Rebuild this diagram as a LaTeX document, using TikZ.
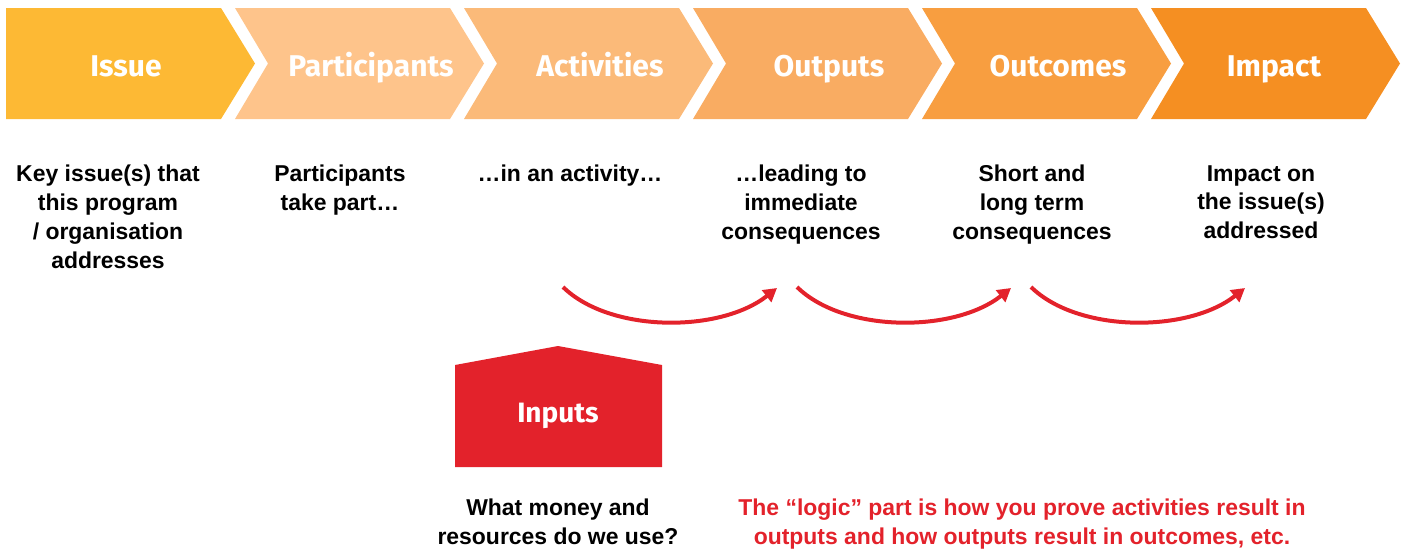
\documentclass[tikz,border=0pt]{standalone}
\usepackage{fontspec}
\setmainfont{Liberation Sans}
\newfontfamily\headfont{Fira Sans}
\usepackage{tikz}
\usepackage{xcolor}
\usetikzlibrary{
    arrows.meta,
    calc,
    positioning
}

\definecolor{issuecol}{HTML}{FDB934}
\definecolor{partcol}{HTML}{FEC48B}
\definecolor{actcol}{HTML}{FBBA79}
\definecolor{outpcol}{HTML}{F9AC62}
\definecolor{outccol}{HTML}{F89E40}
\definecolor{impcol}{HTML}{F58F22}
\definecolor{inred}{HTML}{E3222B}

\begin{document}
\begin{tikzpicture}[x=0.75pt, y=-0.75pt,
    headtext/.style={text=white, font=\headfont\bfseries\fontsize{22.5}{27}\selectfont, anchor=base, inner sep=0},
    bodytext/.style={align=center, font=\bfseries\fontsize{17.2}{21.7}\selectfont, anchor=north, inner sep=0},
    logicarrow/.style={draw=inred, line width=3pt, -{Triangle[length=10pt, width=11pt]}}]
                        \useasboundingbox (0, 0) rectangle (1406, 551);

                        % chevrons
                        \fill[issuecol] (6, 8) -- (221, 8) -- (255, 63.5) -- (221, 119) -- (6, 119) -- cycle;
                        \foreach \k/\col in {1/partcol, 2/actcol, 3/outpcol, 4/outccol, 5/impcol}
                            \fill[\col, shift={(229*\k, 0)}]
                            (6, 8) -- (221, 8) -- (255, 63.5) -- (221, 119) -- (6, 119) -- (39, 63.5) -- cycle;

                        \node[headtext] (issue) at (126, 76) {Issue};
                        \node[headtext] (participants) at (371, 76) {Participants};
                        \node[headtext] (activities) at (600, 76) {Activities};
                        \node[headtext] (outputs) at (829, 76) {Outputs};
                        \node[headtext] (outcomes) at (1058, 76) {Outcomes};
                        \node[headtext] (impact) at (1274, 76) {Impact};

                        \node[bodytext] (issuetxt) at (108, 165) {Key issue(s) that\\this program\\/ organisation\\addresses};
                        \node[bodytext] (parttxt) at (340, 165) {Participants\\take part…};
                        \node[bodytext] (acttxt) at (570, 165) {…in an activity…};
                        \node[bodytext] (outptxt) at (801, 165) {…leading to\\immediate\\consequences};
                        \node[bodytext] (outctxt) at (1032, 165) {Short and\\long term\\consequences};
                        \node[bodytext] (imptxt) at (1261, 165) {Impact on\\the issue(s)\\addressed};

                        % inputs
                        \fill[inred] (455, 467) -- (455, 365) -- (558, 346) -- (662, 365) -- (662, 467) -- cycle;
                        \node[headtext, font=\headfont\bfseries\fontsize{21}{25}\selectfont] (inputs) at (558, 422) {Inputs};
                        \node[bodytext] (money) at (558, 499) {What money and\\resources do we use?};
                        \node[bodytext, text=inred] (logic) at (1022, 499) {The “logic” part is how you prove activities result in\\outputs and how outputs result in outcomes, etc.};

                        \foreach \i in {0, 1, 2} {
                            \coordinate (arcS\i) at (563+234*\i, 287);
                            \coordinate (arcE\i) at (777+234*\i, 288);
                            \draw[logicarrow] (arcS\i) .. controls ($(arcS\i)+(47, 46)$) and ($(arcE\i)+(-57, 45)$) .. (arcE\i);
                        }
                    \end{tikzpicture}
\end{document}
